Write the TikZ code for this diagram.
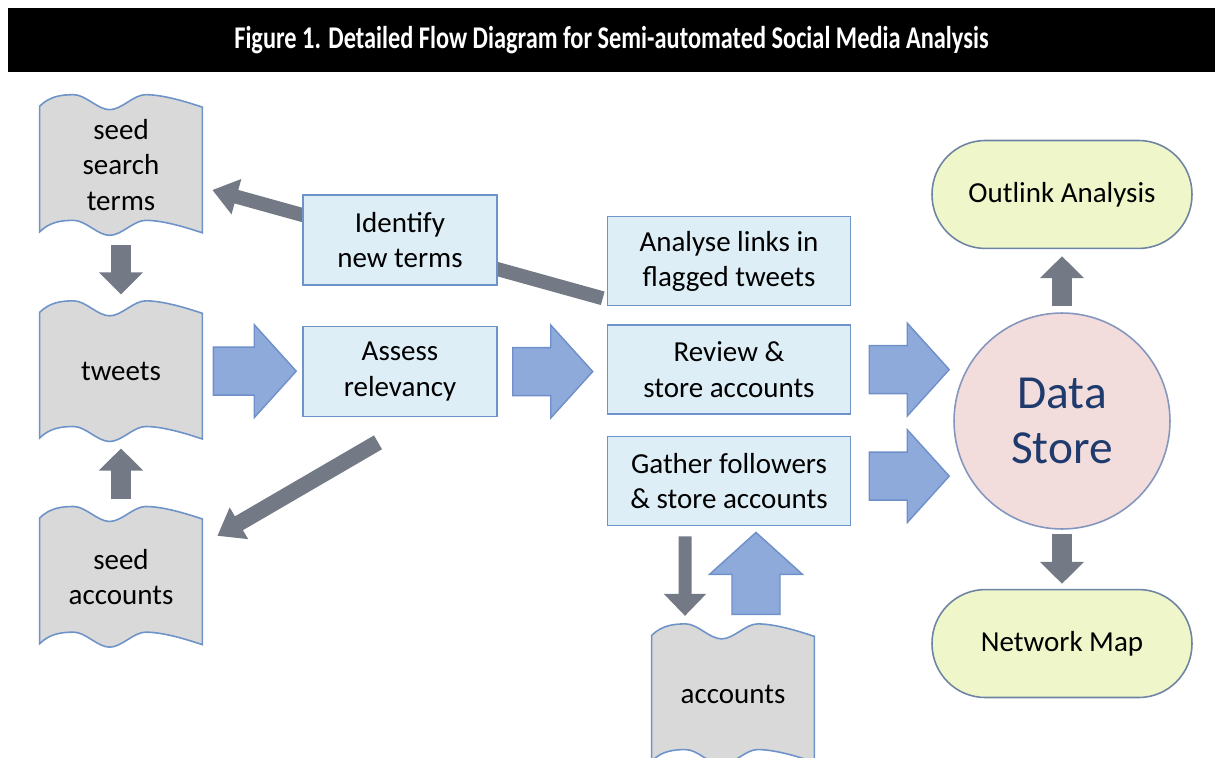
\documentclass[tikz,border=0pt]{standalone}
\usepackage{fontspec}
\setmainfont{Carlito}
\usetikzlibrary{arrows.meta, calc, positioning, backgrounds}

\definecolor{boxfill}{HTML}{DDEEF6}
\definecolor{boxline}{HTML}{6E93C8}
\definecolor{docfill}{HTML}{D9D9D9}
\definecolor{arrowfill}{HTML}{8EAADB}
\definecolor{arrowline}{HTML}{6F8FC9}
\definecolor{darrow}{HTML}{737A85}
\definecolor{storefill}{HTML}{F2DCDC}
\definecolor{storeline}{HTML}{8496BE}
\definecolor{storetext}{HTML}{1F3B6E}
\definecolor{resultfill}{HTML}{EFF6C9}
\definecolor{resultline}{HTML}{6F84A2}

% sizes of the fat blue arrows
\newcommand{\shafthalf}{0.48cm}
\newcommand{\headhalf}{0.93cm}
\newcommand{\headlen}{0.84cm}

% wavy outline drawn round a document node
\newcommand{\docoutline}[1]{%
  \draw[docline] ([yshift=-0.08cm]#1.north west)
    .. controls +(0.2cm,0.2cm) and +(-0.24cm,0) .. ([shift={(0.68cm,0.15cm)}]#1.north west)
    .. controls +(0.24cm,0) and +(-0.24cm,0) .. ([shift={(1.4cm,-0.15cm)}]#1.north west)
    .. controls +(0.24cm,0) and +(-0.24cm,0) .. ([shift={(2.12cm,0.15cm)}]#1.north west)
    .. controls +(0.36cm,0) and +(-0.3cm,0.1cm) .. ([yshift=-0.1cm]#1.north east)
    -- ([yshift=-0.1cm]#1.south east)
    .. controls +(-0.3cm,0.1cm) and +(0.36cm,0) .. ([shift={(2.12cm,0.15cm)}]#1.south west)
    .. controls +(-0.24cm,0) and +(0.24cm,0) .. ([shift={(1.4cm,-0.15cm)}]#1.south west)
    .. controls +(-0.24cm,0) and +(0.24cm,0) .. ([shift={(0.68cm,0.15cm)}]#1.south west)
    .. controls +(-0.24cm,0) and +(0.2cm,0.2cm) .. ([yshift=-0.08cm]#1.south west)
    -- cycle;}

\begin{document}
\begin{tikzpicture}
        [
        x=0.02cm, y=-0.02cm,
        every node/.style={font=\fontsize{16.5}{20}\selectfont, align=center},
        box/.style={draw=boxline, fill=boxfill, line width=0.9pt, minimum width=3.88cm, minimum height=1.8cm, inner sep=2pt},
        widebox/.style={box, minimum width=4.86cm, minimum height=1.78cm},
        doc/.style={minimum width=3.24cm, minimum height=2.5cm, inner sep=0pt},
        docline/.style={draw=boxline, fill=docfill, line width=0.9pt},
        result/.style={draw=resultline, fill=resultfill, line width=0.9pt, rounded corners=1.07cm, minimum width=5.2cm, minimum height=2.16cm},
        store/.style={circle, draw=storeline, fill=storefill, line width=0.9pt, minimum size=4.32cm, text=storetext, font=\fontsize{27}{31}\selectfont},
        titlebar/.style={fill=black, text=white, font=\fontsize{18}{20}\selectfont\bfseries, minimum width=24.14cm, minimum height=1.28cm},
        grayarrow/.style={draw=darrow, line width=0.4cm, -{Triangle[width=0.86cm, length=0.44cm]}},
        thinarrow/.style={draw=darrow, line width=0.28cm, -{Triangle[width=0.7cm, length=0.5cm]}},
        blockarrow/.style={draw=arrowline, fill=arrowfill, line width=0.8pt, line join=miter,
          to path={($(\tikztostart)!\shafthalf!90:(\tikztotarget)$)
            -- ($(\tikztotarget)!\headlen!(\tikztostart)!\shafthalf!-90:(\tikztostart)$)
            -- ($(\tikztotarget)!\headlen!(\tikztostart)!\headhalf!-90:(\tikztostart)$)
            -- (\tikztotarget)
            -- ($(\tikztotarget)!\headlen!(\tikztostart)!\headhalf!90:(\tikztostart)$)
            -- ($(\tikztotarget)!\headlen!(\tikztostart)!\shafthalf!90:(\tikztostart)$)
            -- ($(\tikztostart)!\shafthalf!-90:(\tikztotarget)$)
            -- cycle}}
        ]

        \useasboundingbox (0,0) rectangle (1215,758);

        \node[titlebar] (title) at (611.5,40) {\scalebox{0.77}[1]{Figure 1. Detailed Flow Diagram for Semi-automated Social Media Analysis}};

        % documents
        \node[doc] (seedterms) at (121,165) {seed\\search\\terms};
        \node[doc] (tweets) [below=1.61cm of seedterms] {tweets};
        \node[doc] (seedacc) [below=1.6cm of tweets] {seed\\accounts};

        % steps
        \node[box] (identify) at (400,240) {Identify\\new terms};
        \node[box] (assess) [below=0.8cm of identify] {Assess\\relevancy};

        \node[widebox] (analyse) at (729,261) {Analyse links in\\flagged tweets};
        \node[widebox] (review) [below=0.36cm of analyse] {Review \&\\store accounts};
        \node[widebox] (gather) [below=0.42cm of review] {Gather followers\\\& store accounts};

        \node[doc] (accounts) [below=2.1cm of gather, xshift=0.08cm] {accounts};

        % store and outputs
        \node[store] (datastore) at (1062,421) {Data\\Store};
        \node[result] (outlink) [above=1.26cm of datastore] {Outlink Analysis};
        \node[result] (netmap) [below=1.18cm of datastore] {Network Map};

        \begin{pgfonlayer}{background}
          \foreach \d in {seedterms, tweets, seedacc, accounts} {\docoutline{\d}}
          % new terms go back to the search terms, under the box
          \draw[thinarrow] ($(analyse.south west)+(-0.08cm,0.16cm)$) -- ($(seedterms.east)+(0.2cm,-0.5cm)$);
        \end{pgfonlayer}

        % Edges
        \draw[grayarrow, shorten <=0.34cm, shorten >=0.28cm] (seedterms) -- (tweets);
        \draw[grayarrow, shorten <=0.29cm, shorten >=0.29cm] (seedacc) -- (tweets);
        \draw[thinarrow, line width=0.32cm] ($(assess.south)+(-0.44cm,-0.5cm)$) -- ($(seedacc.east)+(0.3cm,0.82cm)$);

        \draw[blockarrow] ($(tweets.east)+(0.22cm,0)$) to ($(tweets.east -| assess.west)+(-0.12cm,0)$);
        \draw[blockarrow] ($(assess.east)+(0.3cm,0)$) to ($(assess.east -| review.west)+(-0.28cm,0)$);
        \draw[blockarrow] ($(review.east)+(0.36cm,0)$) to ($(review.east -| datastore.west)+(-0.08cm,0)$);
        \draw[blockarrow] ($(gather.east)+(0.36cm,0.1cm)$) to ($(gather.east -| datastore.west)+(-0.08cm,0.1cm)$);

        \draw[grayarrow, line width=0.26cm, -{Triangle[width=0.82cm, length=0.44cm]}] ($(gather.south)+(-0.88cm,-0.2cm)$) -- ($(accounts.north)+(-0.96cm,0.31cm)$);
        \draw[blockarrow] ($(accounts.north)+(0.46cm,0.34cm)$) to ($(gather.south)+(0.54cm,-0.12cm)$);

        \draw[grayarrow, shorten <=0.12cm, shorten >=0.14cm] (datastore) -- (outlink);
        \draw[grayarrow, shorten <=0.08cm, shorten >=0.1cm] (datastore) -- (netmap);

    \end{tikzpicture}
\end{document}
